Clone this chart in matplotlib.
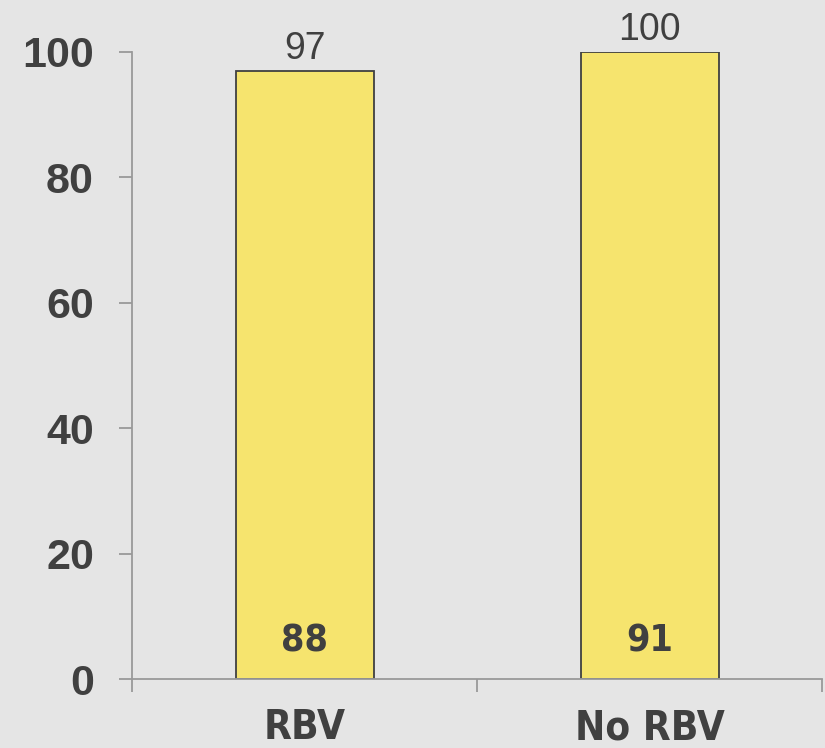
import matplotlib
matplotlib.use('Agg')
import matplotlib.pyplot as plt
from matplotlib import font_manager

# Bar heights (top labels) and in-bar counts
groups = ['RBV', 'No RBV']
pct = [97, 100]
counts = [88, 91]
yticks = [0, 20, 40, 60, 80, 100]

# look for a condensed bold face for the category and count labels
cond_file = None
for f in font_manager.fontManager.ttflist:
    n = f.fname.lower()
    if ('narrow' in n or 'condensed' in n) and 'bold' in n and 'italic' not in n and 'oblique' not in n:
        cond_file = f.fname
        break
if cond_file:
    cond = dict(fontproperties=font_manager.FontProperties(fname=cond_file))
else:
    cond = dict(family='Liberation Sans', fontweight='bold')

bg = '#e5e5e5'
dark = '#404040'
axis_grey = '#999999'

fig = plt.figure(figsize=(8.25, 7.48), dpi=100, facecolor=bg)
ax = fig.add_axes([0.16, 0.0922, 0.8364, 0.8383], facecolor=bg)

x = list(range(len(groups)))
ax.bar(x, pct, width=0.4, color='#f6e46e', edgecolor=dark, linewidth=1.3, zorder=2)

for xi, p, c in zip(x, pct, counts):
    ax.text(xi, p + 0.6, str(p), ha='center', va='bottom', fontsize=27,
            color=dark, family='Liberation Sans')
    t = ax.text(xi, 6.0, str(c), ha='center', va='center', color=dark, **cond)
    t.set_fontsize(27)

ax.set_xlim(-0.5, len(groups) - 0.5)
ax.set_ylim(0, 100)
ax.set_yticks(yticks)
ax.set_yticklabels([str(t) for t in yticks], fontsize=31, fontweight='bold',
                   color=dark, family='Liberation Sans')

# category boundary ticks on the x axis, labels at the centers
ax.set_xticks([i - 0.5 for i in range(len(groups) + 1)])
ax.set_xticklabels([''] * (len(groups) + 1))
ax.set_xticks(x, minor=True)
xl = ax.set_xticklabels(groups, minor=True, color=dark, **cond)
for t in xl:
    t.set_fontsize(29)
ax.tick_params(axis='x', which='minor', length=0, pad=21)
ax.tick_params(axis='x', which='major', length=9.4, width=1.3, color=axis_grey, direction='out')
ax.tick_params(axis='y', length=9.4, width=1.3, color=axis_grey, pad=18)

for side in ['top', 'right']:
    ax.spines[side].set_visible(False)
for side in ['left', 'bottom']:
    ax.spines[side].set_color(axis_grey)
    ax.spines[side].set_linewidth(1.3)

fig.savefig('out.png', dpi=100, facecolor=bg)
